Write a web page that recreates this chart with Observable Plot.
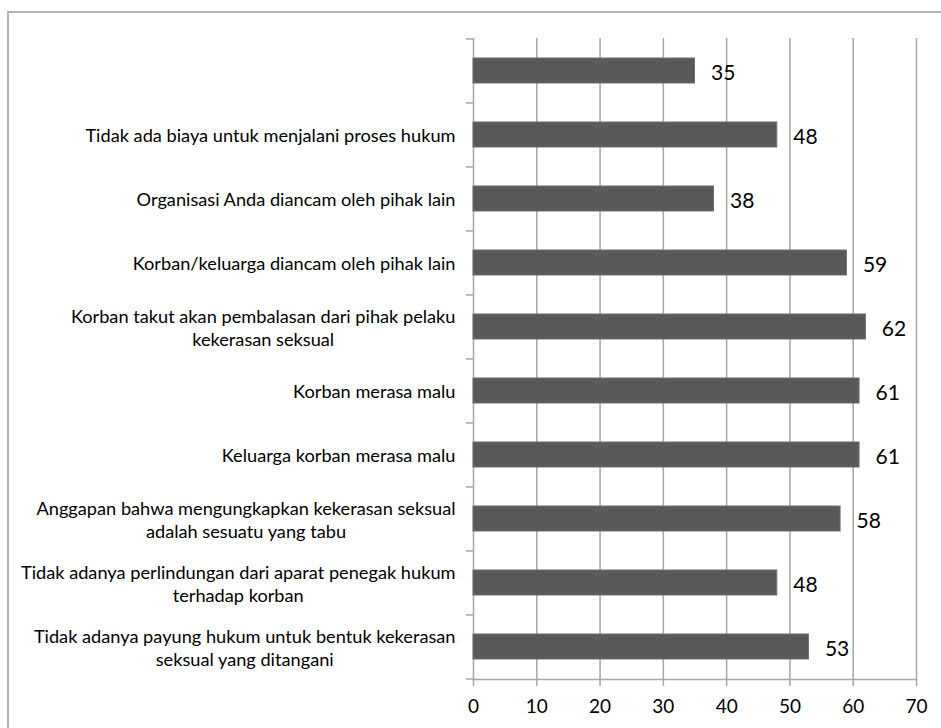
<!DOCTYPE html>
<html>
<head>
<meta charset="utf-8">
<script src="https://cdn.jsdelivr.net/npm/d3@7"></script>
<script src="https://cdn.jsdelivr.net/npm/@observablehq/plot@0.6"></script>
<style>
  html, body { margin: 0; padding: 0; background: #fff; overflow: hidden; }
  #wrap { position: relative; width: 941px; height: 728px; }
  #border { position: absolute; left: 7px; top: 11px; width: 1000px; height: 800px; border: 2px solid #b3b3b3; box-sizing: border-box; }
  #chart { position: absolute; left: 0; top: 0; }
</style>
</head>
<body>
<div id="wrap"><div id="border"></div><div id="chart"></div></div>
<script>
const categories = [
  "",
  "Tidak ada biaya untuk menjalani proses hukum",
  "Organisasi Anda diancam oleh pihak lain",
  "Korban/keluarga diancam oleh pihak lain",
  "Korban takut akan pembalasan dari pihak pelaku\nkekerasan seksual",
  "Korban merasa malu",
  "Keluarga korban merasa malu",
  "Anggapan bahwa mengungkapkan kekerasan seksual\nadalah sesuatu yang tabu",
  "Tidak adanya perlindungan dari aparat penegak hukum\nterhadap korban",
  "Tidak adanya payung hukum untuk bentuk kekerasan\nseksual yang ditangani"
];
const values = [35, 48, 38, 59, 62, 61, 61, 58, 48, 53];
const xTicks = [0, 10, 20, 30, 40, 50, 60, 70];

const data = categories.map((c, i) => ({cat: c, value: values[i]}));
const gridColor = "#a6a6a6";
const step = (728 - 38 - 49) / categories.length;

const chart = Plot.plot({
  width: 941,
  height: 728,
  marginLeft: 473,
  marginRight: 25,
  marginTop: 38,
  marginBottom: 49,
  style: {fontFamily: "Lato, 'Open Sans', sans-serif", background: "transparent", color: "#000"},
  x: {domain: [0, 70], ticks: xTicks},
  y: {domain: categories, paddingInner: 0.61, paddingOuter: 0.305},
  marks: [
    Plot.ruleX(xTicks, {x: d => d, stroke: gridColor, strokeWidth: 1.5}),
    Plot.frame({anchor: "bottom", stroke: gridColor, strokeWidth: 1.5}),
    Plot.axisX({ticks: xTicks, tickSize: 7, tickPadding: 13, fontSize: 19, stroke: gridColor, strokeWidth: 1.5, strokeOpacity: 1, label: null, tickFormat: d => String(d), fill: "#000"}),
    Plot.axisY({tickSize: 7, tickFormat: () => "", dy: -step / 2, stroke: gridColor, strokeWidth: 1.5, strokeOpacity: 1, label: null}),
    Plot.axisY({ticks: [categories[categories.length - 1]], tickSize: 7, tickFormat: () => "", dy: step / 2, stroke: gridColor, strokeWidth: 1.5, strokeOpacity: 1, label: null}),
    Plot.barX(data, {y: "cat", x: "value", fill: "#595959", stroke: "#6e6e6e", strokeWidth: 1}),
    Plot.text(data, {y: "cat", x: "value", text: d => String(d.value), dx: 16, dy: 2, textAnchor: "start", fontSize: 21, fill: "#000"}),
    Plot.text(data, {y: "cat", x: 0, text: "cat", dx: -18, textAnchor: "end", fontSize: 18.2, lineHeight: 1.27, fill: "#000", className: "catlabels"})
  ]
});
document.getElementById("chart").appendChild(chart);

// center multi-line labels on their widest line (right edge kept)
chart.querySelectorAll(".catlabels text").forEach(t => {
  const spans = t.querySelectorAll("tspan");
  if (spans.length > 1) {
    const w = t.getBBox().width;
    t.setAttribute("text-anchor", "middle");
    spans.forEach(s => s.setAttribute("x", -w / 2));
  }
});
</script>
</body>
</html>
